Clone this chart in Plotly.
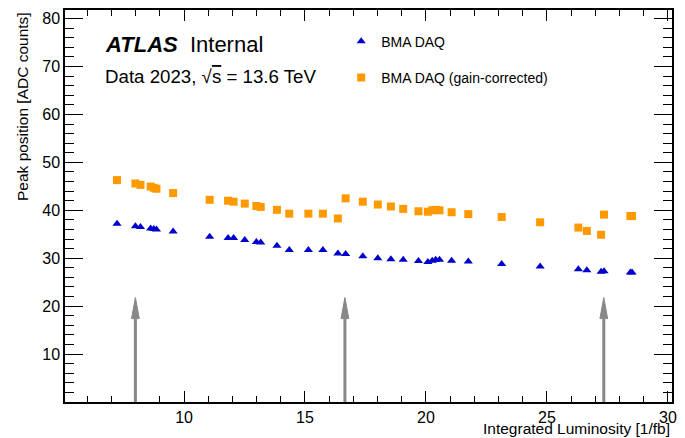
import plotly.graph_objects as go

# ---- data ----
lumi = [7.23, 7.99, 8.20, 8.62, 8.75, 8.86, 9.55, 11.06, 11.82, 12.05,
        12.51, 12.99, 13.17, 13.84, 14.35, 15.14, 15.74, 16.36, 16.68, 17.39,
        18.01, 18.55, 19.06, 19.69, 20.08, 20.26, 20.40, 20.56, 21.06, 21.75,
        23.13, 24.72, 26.30, 26.65, 27.24, 27.36, 28.45, 28.52]
peak_raw = [37.2, 36.7, 36.5, 36.2, 36.1, 36.0, 35.6, 34.5, 34.2, 34.2,
            33.8, 33.4, 33.3, 32.6, 31.7, 31.7, 31.7, 31.0, 30.9, 30.4,
            30.0, 29.8, 29.7, 29.4, 29.2, 29.5, 29.7, 29.7, 29.5, 29.3,
            28.8, 28.3, 27.7, 27.5, 27.2, 27.3, 27.0, 27.0]
peak_corr = [46.3, 45.6, 45.3, 44.95, 44.7, 44.5, 43.6, 42.2, 42.0, 41.8,
             41.4, 40.9, 40.7, 40.1, 39.3, 39.3, 39.3, 38.3, 42.5, 41.8,
             41.2, 40.8, 40.3, 39.8, 39.7, 40.0, 40.1, 40.0, 39.6, 39.2,
             38.6, 37.5, 36.4, 35.7, 34.9, 39.1, 38.8, 38.8]
arrow_x = [7.99, 16.65, 27.35]
arrow_top = 21.8
arrow_head_len = 4.4
arrow_head_halfw = 0.16

x_range = [5.08, 30.17]
y_range = [0, 81.8]
x_ticks = [10, 15, 20, 25, 30]
y_ticks = [10, 20, 30, 40, 50, 60, 70, 80]

FONT = "Liberation Sans, Arial, Helvetica, sans-serif"
GRAY = "#888888"

fig = go.Figure()

fig.add_trace(go.Scatter(
    x=lumi, y=peak_raw, mode="markers", name="BMA DAQ",
    marker=dict(symbol="triangle-up", size=8, color="#0000CC"),
    legendgroup="a"))
fig.add_trace(go.Scatter(
    x=lumi, y=peak_corr, mode="markers", name="BMA DAQ (gain-corrected)",
    marker=dict(symbol="square", size=8, color="#FF9900"),
    legendgroup="b"))

# arrows
shapes = []
for ax in arrow_x:
    base = arrow_top - arrow_head_len
    shapes.append(dict(type="line", xref="x", yref="y", x0=ax, x1=ax,
                       y0=y_range[0], y1=base, line=dict(color=GRAY, width=3)))
    shapes.append(dict(type="path", xref="x", yref="y",
                       path=f"M {ax - arrow_head_halfw} {base} L {ax + arrow_head_halfw} {base} L {ax} {arrow_top} Z",
                       fillcolor=GRAY, line=dict(color=GRAY, width=1)))

annotations = [
    dict(xref="x domain", yref="y domain", x=0.063, y=0.913, xanchor="left", yanchor="middle",
         text="<b><i>ATLAS</i></b>  Internal", showarrow=False,
         font=dict(family=FONT, size=22, color="black")),
    dict(xref="x domain", yref="y domain", x=0.063, y=0.83, xanchor="left", yanchor="middle",
         text="Data 2023, √<span style='text-decoration:overline'>s</span> = 13.6 TeV", showarrow=False,
         font=dict(family=FONT, size=18.7, color="black")),
    dict(xref="paper", yref="paper", x=1.0, y=-0.04, xanchor="right", yanchor="top",
         text="Integrated Luminosity [1/fb]", showarrow=False,
         font=dict(family=FONT, size=15.5, color="black")),
    dict(xref="paper", yref="paper", x=-0.07, y=1.0, xanchor="center", yanchor="top",
         text="Peak position [ADC counts]", textangle=-90, showarrow=False,
         font=dict(family=FONT, size=15.5, color="black")),
]

axis_common = dict(showline=True, linecolor="black", linewidth=1.5, mirror="ticks",
                   ticks="inside", tickcolor="black", tickwidth=1.2, showgrid=False,
                   zeroline=False, tickfont=dict(family=FONT, size=16, color="black"))

fig.update_layout(
    width=685, height=438,
    margin=dict(l=65, r=12, t=8, b=36),
    paper_bgcolor="white", plot_bgcolor="white",
    showlegend=True,
    legend=dict(x=0.455, y=0.96, xanchor="left", yanchor="top", bgcolor="rgba(0,0,0,0)",
                font=dict(family=FONT, size=14, color="black"),
                tracegroupgap=15, itemwidth=30),
    xaxis=dict(range=x_range, tickvals=x_ticks, ticklen=11,
               minor=dict(dtick=1, tick0=0, ticklen=6, ticks="inside", tickcolor="black"),
               **axis_common),
    yaxis=dict(range=y_range, tickvals=y_ticks, ticklen=18,
               minor=dict(dtick=2, tick0=0, ticklen=9, ticks="inside", tickcolor="black"),
               **axis_common),
    shapes=shapes,
    annotations=annotations,
)

fig.write_html("out.html", config={"displayModeBar": False},
               post_script="document.body.style.margin='0';document.body.style.overflow='hidden';")
